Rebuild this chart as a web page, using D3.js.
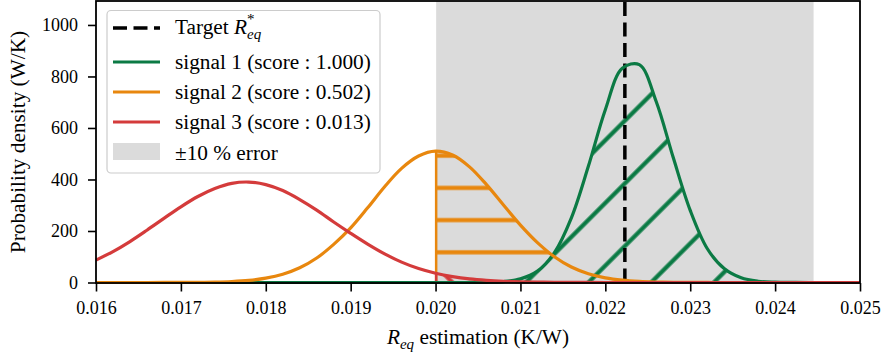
<!DOCTYPE html>
<html>
<head>
<meta charset="utf-8">
<script src="https://cdn.jsdelivr.net/npm/d3@7"></script>
<style>
body { margin: 0; background: #fff; }
svg text { font-family: "Liberation Serif", "DejaVu Serif", serif; fill: #000; }
</style>
</head>
<body>
<div id="chart"></div>
<script>
// R_eq grid (K/W) and probability densities (W/K)
var xs = [0.0160, 0.0162, 0.0164, 0.0166, 0.0168, 0.0170, 0.0172, 0.0174, 0.0176, 0.0178,
          0.0180, 0.0182, 0.0184, 0.0186, 0.0188, 0.0190, 0.0192, 0.0194, 0.0196, 0.0198,
          0.0200, 0.0202, 0.0204, 0.0206, 0.0208, 0.0210, 0.0212, 0.0214, 0.0216, 0.0218,
          0.0220, 0.0222, 0.0224, 0.0226, 0.0228, 0.0230, 0.0232, 0.0234, 0.0236, 0.0238,
          0.0240, 0.0242, 0.0244, 0.0246, 0.0248, 0.0250];
var signal1 = [0, 0, 0, 0, 0, 0, 0, 0, 0, 0,
               0, 0, 0, 0, 0, 0, 0, 0, 0, 0,
               0, 0, 0.1, 0.8, 3.6, 14, 44, 116, 251, 451,
               671, 832, 846, 702, 485, 280, 132, 54, 18, 4.8,
               1.1, 0.2, 0, 0, 0, 0];
var signal2 = [0, 0, 0, 0, 0.1, 0.3, 0.7, 1.6, 3.8, 8.3,
               17, 32, 57, 95, 148, 212, 290, 372, 443, 491,
               510, 495, 449, 380, 301, 223, 155, 100, 60, 34,
               18, 8.9, 4.1, 1.8, 0.7, 0.3, 0.1, 0, 0, 0,
               0, 0, 0, 0, 0, 0];
var signal3 = [87, 120, 159, 203, 249, 294, 334, 365, 385, 390,
               380, 357, 322, 281, 235, 191, 149, 111, 79, 54,
               36, 23, 14, 8.5, 4.9, 2.7, 1.4, 0.7, 0.3, 0.15,
               0.07, 0, 0, 0, 0, 0, 0, 0, 0, 0,
               0, 0, 0, 0, 0, 0];
var signalNames = ["signal 1 (score : 1.000)", "signal 2 (score : 0.502)", "signal 3 (score : 0.013)"];
var xTicks = [0.016, 0.017, 0.018, 0.019, 0.020, 0.021, 0.022, 0.023, 0.024, 0.025];
var yTicks = [0, 200, 400, 600, 800, 1000];
var target = 0.02223;
var errorPct = 0.10;

var svgW = 883, svgH = 356;
var plotL = 96, plotR = 860, plotT = 1, plotB = 282.5, axisY = 283;
var colors = ["#0b7a44", "#e8870e", "#d43b3b"];
var labelSize = 21.3, tickSize = 18;

var svg = d3.select("#chart").append("svg")
    .attr("width", svgW)
    .attr("height", svgH);

var x = d3.scaleLinear().domain([0.016, 0.025]).range([plotL, plotR]);
var y = d3.scaleLinear().domain([0, 1093]).range([plotB, plotT]);

var lo = target * (1 - errorPct), hi = target * (1 + errorPct);
var series = [signal1, signal2, signal3];

var defs = svg.append("defs");
// hatch patterns: '/' for signal 1, '-' for signal 2, '\' for signal 3
var hatch1 = defs.append("pattern").attr("id", "hatch0")
    .attr("patternUnits", "userSpaceOnUse")
    .attr("width", 10).attr("height", 44.33).attr("y", 17.4)
    .attr("patternTransform", "rotate(-45)");
hatch1.append("line").attr("x1", -1).attr("x2", 11).attr("y1", 22.17).attr("y2", 22.17)
    .attr("stroke", colors[0]).attr("stroke-width", 4.2);
var hatch2 = defs.append("pattern").attr("id", "hatch1")
    .attr("patternUnits", "userSpaceOnUse")
    .attr("width", 10).attr("height", 32.2).attr("y", 236.2);
hatch2.append("line").attr("x1", -1).attr("x2", 11).attr("y1", 16.1).attr("y2", 16.1)
    .attr("stroke", colors[1]).attr("stroke-width", 4.2);
var hatch3 = defs.append("pattern").attr("id", "hatch2")
    .attr("patternUnits", "userSpaceOnUse")
    .attr("width", 10).attr("height", 44.33).attr("y", -9.4)
    .attr("patternTransform", "rotate(45)");
hatch3.append("line").attr("x1", -1).attr("x2", 11).attr("y1", 22.17).attr("y2", 22.17)
    .attr("stroke", colors[2]).attr("stroke-width", 4.2);

var line = d3.line()
    .x(function(d, i) { return x(xs[i]); })
    .y(function(d) { return y(d); })
    .curve(d3.curveCatmullRom.alpha(0.5));
var area = d3.area()
    .x(function(d, i) { return x(xs[i]); })
    .y0(y(0))
    .y1(function(d) { return y(d); })
    .curve(d3.curveCatmullRom.alpha(0.5));

series.forEach(function(s, k) {
    defs.append("clipPath").attr("id", "under" + k)
        .append("path").attr("d", area(s));
});

// +-10 % error band
svg.append("rect")
    .attr("x", x(lo)).attr("y", plotT)
    .attr("width", x(hi) - x(lo)).attr("height", plotB - plotT)
    .attr("fill", "#dbdbdb");

// hatched areas inside the band
series.forEach(function(s, k) {
    var g = svg.append("g").attr("clip-path", "url(#under" + k + ")");
    g.append("rect")
        .attr("x", x(lo)).attr("y", plotT)
        .attr("width", x(hi) - x(lo)).attr("height", plotB - plotT)
        .attr("fill", "url(#hatch" + k + ")");
    [lo, hi].forEach(function(v) {
        g.append("line")
            .attr("x1", x(v)).attr("x2", x(v))
            .attr("y1", plotT).attr("y2", plotB)
            .attr("stroke", colors[k]).attr("stroke-width", 2.5);
    });
});

// target line
svg.append("line")
    .attr("x1", x(target)).attr("x2", x(target))
    .attr("y1", plotB).attr("y2", plotT)
    .attr("stroke", "#000").attr("stroke-width", 3.5)
    .attr("stroke-dasharray", "14,6.5");

// density curves
series.forEach(function(s, k) {
    svg.append("path")
        .attr("d", line(s))
        .attr("fill", "none")
        .attr("stroke", colors[k])
        .attr("stroke-width", 3.2);
});

// axes
var xAxis = svg.append("g")
    .attr("transform", "translate(0," + axisY + ")")
    .call(d3.axisBottom(x).tickValues(xTicks).tickFormat(d3.format(".3f"))
          .tickSize(8.5).tickPadding(10).tickSizeOuter(0));
var yAxis = svg.append("g")
    .attr("transform", "translate(" + plotL + ",0)")
    .call(d3.axisLeft(y).tickValues(yTicks).tickFormat(d3.format("d"))
          .tickSize(8).tickPadding(10).tickSizeOuter(0));
[xAxis, yAxis].forEach(function(a) {
    a.select(".domain").remove();
    a.selectAll(".tick line").attr("stroke", "#000").attr("stroke-width", 1.6);
    a.selectAll(".tick text").attr("font-size", tickSize);
});

svg.append("rect")
    .attr("x", plotL).attr("y", plotT)
    .attr("width", plotR - plotL).attr("height", axisY - plotT)
    .attr("fill", "none").attr("stroke", "#000").attr("stroke-width", 1.8);

// axis labels
var xl = svg.append("text")
    .attr("x", 478).attr("y", 344)
    .attr("text-anchor", "middle").attr("font-size", labelSize);
xl.append("tspan").attr("font-style", "italic").text("R");
xl.append("tspan").attr("font-style", "italic").attr("font-size", 15).attr("dy", 5).text("eq");
xl.append("tspan").attr("dy", -5).text(" estimation (K/W)");

svg.append("text")
    .attr("transform", "translate(25,142) rotate(-90)")
    .attr("text-anchor", "middle").attr("font-size", labelSize)
    .text("Probability density (W/K)");

// legend
var lg = svg.append("g");
lg.append("rect")
    .attr("x", 107).attr("y", 10.5).attr("width", 273).attr("height", 162.5)
    .attr("rx", 4).attr("fill", "#fff").attr("fill-opacity", 0.8)
    .attr("stroke", "#cccccc").attr("stroke-width", 1.2);

lg.append("line")
    .attr("x1", 113).attr("x2", 160).attr("y1", 28).attr("y2", 28)
    .attr("stroke", "#000").attr("stroke-width", 3.5).attr("stroke-dasharray", "14,6.5");
var tt = lg.append("text").attr("x", 175).attr("y", 34).attr("font-size", labelSize);
tt.append("tspan").text("Target ");
tt.append("tspan").attr("font-style", "italic").text("R");
tt.append("tspan").attr("font-size", 15).attr("dy", -10).text("*");
tt.append("tspan").attr("font-style", "italic").attr("font-size", 15)
    .attr("dx", -7.5).attr("dy", 15).text("eq");

signalNames.forEach(function(name, k) {
    var cy = 62 + k * 30;
    lg.append("line")
        .attr("x1", 113).attr("x2", 160).attr("y1", cy).attr("y2", cy)
        .attr("stroke", colors[k]).attr("stroke-width", 3.2);
    lg.append("text").attr("x", 175).attr("y", cy + 7).attr("font-size", labelSize).text(name);
});

lg.append("rect")
    .attr("x", 113).attr("y", 143).attr("width", 47).attr("height", 17)
    .attr("fill", "#dbdbdb");
lg.append("text").attr("x", 175).attr("y", 160).attr("font-size", labelSize)
    .text("\u00b110 % error");
</script>
</body>
</html>
